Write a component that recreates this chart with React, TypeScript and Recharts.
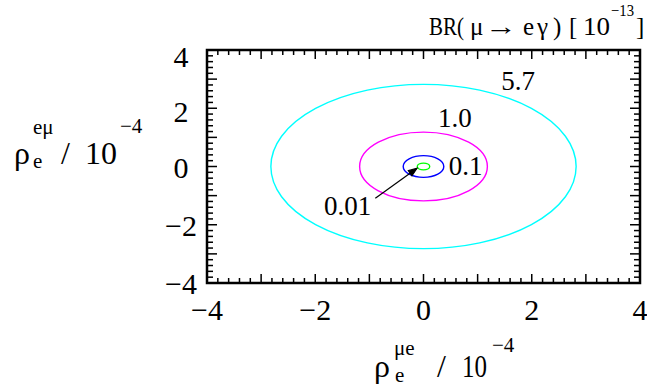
import React from 'react';
import { ComposedChart, XAxis, YAxis, Scatter, ReferenceArea, ReferenceLine } from 'recharts';

const font = { fontFamily: 'Liberation Serif' };

// contours of BR(mu -> e gamma) in units of 1e-13, radii
const contourLevels = ['5.7', '1.0', '0.1', '0.01'];
const contourRadii = [2.82, 1.18, 0.375, 0.115];
const contourColors = ['#00ffff', '#ff00ff', '#0000ff', '#00ff00'];

// where each level is written
const labelX = [1.75, 0.58, 0.78, -1.4];
const labelY = [2.92, 1.65, 0.02, -1.34];

const arrowFrom = { x: -0.89, y: -1.09 };
const arrowTo = { x: -0.12, y: -0.06 };

const axisTicks = [-4, -2, 0, 2, 4];
const majorTicks = [-4, -3, -2, -1, 0, 1, 2, 3, 4];
const minorTicks = majorTicks.slice(0, -1).flatMap((t) => [0.2, 0.4, 0.6, 0.8].map((f) => +(t + f).toFixed(1)));

const labelData = contourLevels.map((level, i) => ({ x: labelX[i], y: labelY[i], level }));

const fmt = (v: number) => (v < 0 ? `\u2212${-v}` : `${v}`);

const XTick = (p: any) => (
  <text x={p.x} y={p.y + 37} textAnchor="middle" style={font} fontSize={30} fill="#000">
    {fmt(p.payload.value)}
  </text>
);

const YTick = (p: any) => {
  const v = p.payload.value;
  return (
    <text x={p.x - 26} y={p.y + 11 + Math.max(0, v) * 1.5} textAnchor="middle" style={font} fontSize={30} fill="#000">
      {fmt(v)}
    </text>
  );
};

const XTitle = () => (
  <g fill="#000">
    <text style={font} x={374} y={377} fontSize={32}>ρ</text>
    <text style={font} x={394} y={355} fontSize={21}>μe</text>
    <text style={font} x={395} y={382} fontSize={21}>e</text>
    <text style={font} x={437} y={377} fontSize={32}>/</text>
    <text style={font} x={462} y={377} fontSize={32} textLength={25} lengthAdjust="spacingAndGlyphs">10</text>
    <text style={font} x={492} y={352} fontSize={21}>{'\u2212'}4</text>
  </g>
);

const YTitle = () => (
  <g fill="#000">
    <text style={font} x={14} y={164} fontSize={32}>ρ</text>
    <text style={font} x={33} y={134} fontSize={21}>eμ</text>
    <text style={font} x={33} y={168} fontSize={21}>e</text>
    <text style={font} x={61} y={164} fontSize={32}>/</text>
    <text style={font} x={85} y={164} fontSize={32}>10</text>
    <text style={font} x={120} y={133} fontSize={21}>{'\u2212'}4</text>
  </g>
);

const TopTitle = () => (
  <g fill="#000">
    <text style={font} fontSize={25} x={429} y={35} textLength={35} lengthAdjust="spacingAndGlyphs">BR(</text>
    <text style={font} fontSize={25} x={470} y={35}>μ</text>
    <text style={font} fontSize={25} x={485} y={35} textLength={32} lengthAdjust="spacingAndGlyphs">{'\u2192'}</text>
    <text style={font} fontSize={25} x={523} y={35}>e</text>
    <text style={font} fontSize={25} x={537} y={35}>γ</text>
    <text style={font} fontSize={25} x={553} y={35}>)</text>
    <text style={font} fontSize={25} x={569} y={35}>[</text>
    <text style={font} fontSize={25} x={583} y={35} textLength={27} lengthAdjust="spacingAndGlyphs">10</text>
    <text style={font} fontSize={16} x={611} y={16} textLength={23} lengthAdjust="spacingAndGlyphs">{'\u2212'}13</text>
    <text style={font} fontSize={25} x={636} y={35}>]</text>
  </g>
);

const vTick = (len: number) => (p: any) => {
  const top = Math.min(p.y1, p.y2);
  const bot = Math.max(p.y1, p.y2);
  return (
    <g stroke="#000" strokeWidth={1.5}>
      <line x1={p.x1} x2={p.x1} y1={top} y2={top + len} />
      <line x1={p.x1} x2={p.x1} y1={bot} y2={bot - len} />
    </g>
  );
};

const hTick = (len: number) => (p: any) => {
  const left = Math.min(p.x1, p.x2);
  const right = Math.max(p.x1, p.x2);
  return (
    <g stroke="#000" strokeWidth={1.5}>
      <line x1={left} x2={left + len} y1={p.y1} y2={p.y1} />
      <line x1={right} x2={right - len} y1={p.y1} y2={p.y1} />
    </g>
  );
};

const ellipseShape = (color: string) => (p: any) => (
  <ellipse
    cx={p.x + p.width / 2}
    cy={p.y + p.height / 2}
    rx={Math.abs(p.width) / 2}
    ry={Math.abs(p.height) / 2}
    fill="none"
    stroke={color}
    strokeWidth={1.4}
  />
);

const arrowShape = (p: any) => {
  const ang = Math.atan2(p.y2 - p.y1, p.x2 - p.x1);
  const head = 9;
  const spread = 0.35;
  return (
    <g stroke="#000" strokeWidth={1.2} fill="none">
      <line x1={p.x1} y1={p.y1} x2={p.x2} y2={p.y2} />
      <polygon
        fill="#000"
        points={`${p.x2},${p.y2} ${p.x2 - head * Math.cos(ang - spread)},${p.y2 - head * Math.sin(ang - spread)} ${p.x2 - head * Math.cos(ang + spread)},${p.y2 - head * Math.sin(ang + spread)}`}
      />
    </g>
  );
};

const LevelLabel = (p: any) => (
  <text x={p.cx} y={p.cy + 9} textAnchor="middle" style={font} fontSize={27} fill="#000">
    {p.payload.level}
  </text>
);

export default function App() {
  return (
    <div style={{ position: 'absolute', left: 0, top: 0, background: '#fff' }}>
      <ComposedChart width={647} height={389} margin={{ top: 50, right: 7, bottom: 0, left: 0 }}>
        <XAxis
          type="number"
          dataKey="x"
          domain={[-4, 4]}
          ticks={axisTicks}
          interval={0}
          height={106}
          axisLine={false}
          tickLine={false}
          tickSize={0}
          tickMargin={0}
          tick={XTick}
          label={{ content: XTitle }}
          allowDataOverflow
        />
        <YAxis
          type="number"
          dataKey="y"
          domain={[-4, 4]}
          ticks={axisTicks}
          interval={0}
          width={207}
          axisLine={false}
          tickLine={false}
          tickSize={0}
          tickMargin={0}
          tick={YTick}
          label={{ content: YTitle }}
          allowDataOverflow
        />
        {contourRadii.map((r, i) => (
          <ReferenceArea
            key={contourLevels[i]}
            x1={-r}
            x2={r}
            y1={-r}
            y2={r}
            ifOverflow="visible"
            shape={ellipseShape(contourColors[i])}
          />
        ))}
        <ReferenceLine segment={[arrowFrom, arrowTo]} ifOverflow="visible" shape={arrowShape} />
        {majorTicks.map((t) => (
          <ReferenceLine key={`xM${t}`} x={t} ifOverflow="visible" shape={vTick(9)} />
        ))}
        {minorTicks.map((t) => (
          <ReferenceLine key={`xm${t}`} x={t} ifOverflow="visible" shape={vTick(5)} />
        ))}
        {majorTicks.map((t) => (
          <ReferenceLine key={`yM${t}`} y={t} ifOverflow="visible" shape={hTick(10)} />
        ))}
        {minorTicks.map((t) => (
          <ReferenceLine key={`ym${t}`} y={t} ifOverflow="visible" shape={hTick(6)} />
        ))}
        <ReferenceArea
          x1={-4}
          x2={4}
          y1={-4}
          y2={4}
          ifOverflow="visible"
          fill="none"
          fillOpacity={0}
          stroke="#000"
          strokeWidth={2.5}
          label={{ content: TopTitle }}
        />
        <Scatter data={labelData} dataKey="y" isAnimationActive={false} shape={LevelLabel} />
      </ComposedChart>
    </div>
  );
}
